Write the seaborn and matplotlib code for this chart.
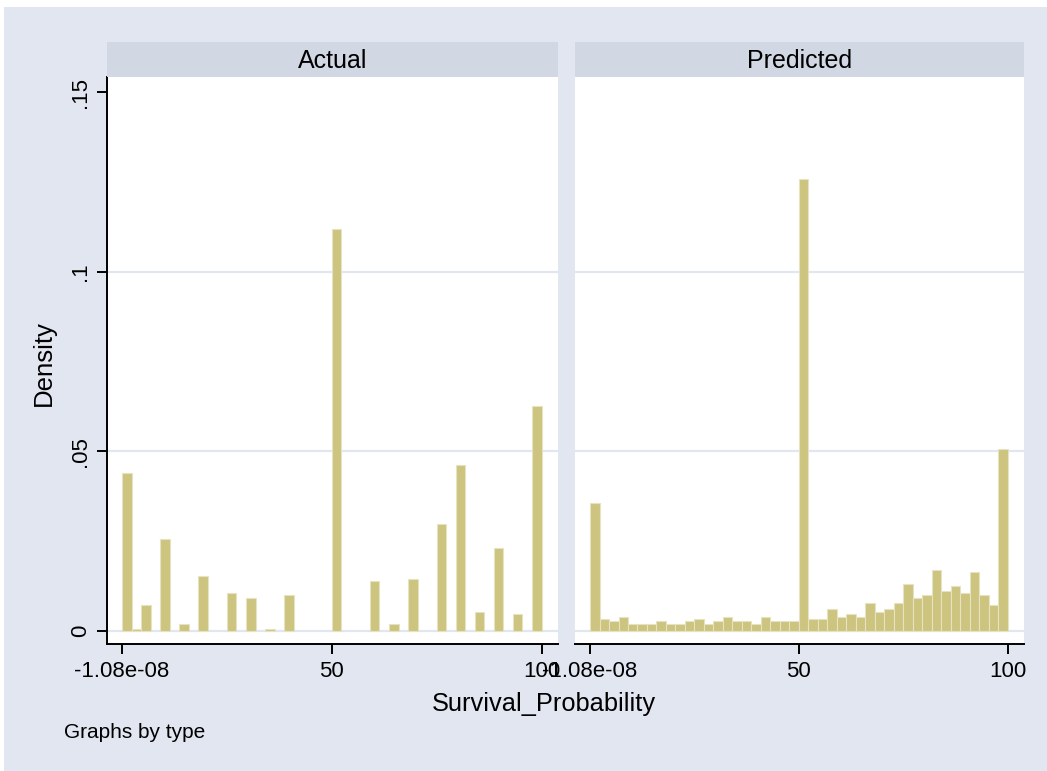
import numpy as np
import pandas as pd
import matplotlib
matplotlib.use("Agg")
import matplotlib.pyplot as plt
import seaborn as sns
from matplotlib.patches import Rectangle

# density of each of the 44 equal-width bins of Survival_Probability
actual_density = [0.0441, 0.00065, 0.00725, 0, 0.0257, 0, 0.0020, 0, 0.0152, 0,
                  0, 0.0106, 0, 0.0092, 0, 0.00065, 0, 0.0099, 0, 0,
                  0, 0, 0.1120, 0, 0, 0, 0.0139, 0, 0.0020, 0,
                  0.0145, 0, 0, 0.0297, 0, 0.0461, 0, 0.0053, 0, 0.0231,
                  0, 0.0047, 0, 0.0627]
predicted_density = [0.0357, 0.0034, 0.0027, 0.0039, 0.0020, 0.0020, 0.0020, 0.0027, 0.0020, 0.0020,
                     0.0027, 0.0034, 0.0020, 0.0027, 0.0039, 0.0027, 0.0027, 0.0020, 0.0039, 0.0027,
                     0.0027, 0.0027, 0.1259, 0.0034, 0.0034, 0.0060, 0.0039, 0.0047, 0.0039, 0.0079,
                     0.0053, 0.0060, 0.0079, 0.0132, 0.0092, 0.0099, 0.0171, 0.0112, 0.0126, 0.0106,
                     0.0165, 0.0099, 0.0073, 0.0507]
panel_titles = ["Actual", "Predicted"]
x_min, x_max = -1.08e-08, 100
x_ticks = [-1.08e-08, 50, 100]
x_ticklabels = ["-1.08e-08", "50", "100"]
y_ticks = [0, 0.05, 0.1, 0.15]
y_ticklabels = ["0", ".05", ".1", ".15"]

BG = "#E1E6F0"
STRIP = "#D1D7E3"
BAR = "#CCC47F"
BAR_EDGE = "#E6E2C2"
GRID = "#E1E6F0"

plt.rcParams["font.family"] = ["Liberation Sans", "DejaVu Sans"]

n_bins = len(actual_density)
edges = np.linspace(x_min, x_max, n_bins + 1)
centers = (edges[:-1] + edges[1:]) / 2
df = pd.DataFrame({
    "type": np.repeat(panel_titles, n_bins),
    "center": np.tile(centers, 2),
    "density": actual_density + predicted_density,
})

W, H = 1047, 771
fig = plt.figure(figsize=(W / 100, H / 100), dpi=100)
fig.patch.set_facecolor("white")
fig.add_artist(Rectangle((3.5 / W, 0), 1, (H - 7) / H, transform=fig.transFigure,
                         facecolor=BG, edgecolor="none", zorder=-10))

# panel boxes in pixels: (left, width)
panels = [(107, 450.5), (575, 448.5)]
top_px, bottom_px = 77, 644
strip_h = 35

for (x0, w), title in zip(panels, panel_titles):
    ax = fig.add_axes([x0 / W, (H - bottom_px) / H, w / W, (bottom_px - top_px) / H])
    ax.set_facecolor("white")
    for v in y_ticks[:-1]:
        ax.axhline(v, color=GRID, lw=1.6, zorder=0)
    sub = df[df["type"] == title]
    sns.histplot(data=sub, x="center", weights="density", bins=n_bins, binrange=(x_min, x_max),
                 stat="count", color=BAR, alpha=1, edgecolor=BAR_EDGE, linewidth=0.8,
                 ax=ax, zorder=2)
    for p in ax.patches:
        if p.get_height() == 0:
            p.set_visible(False)
    ax.set_xlim(-3.6, 103.8)
    ax.set_ylim(-0.00363, 0.15418)
    ax.set_xlabel("")
    ax.set_ylabel("")
    ax.set_xticks(x_ticks, x_ticklabels)
    ax.tick_params(axis="x", direction="out", length=7.2, width=1.4, labelsize=16, pad=5)
    for s in ["top", "right"]:
        ax.spines[s].set_visible(False)
    ax.spines["bottom"].set_linewidth(1.4)
    if title == panel_titles[0]:
        ax.set_yticks(y_ticks, y_ticklabels, rotation=90, va="center")
        ax.tick_params(axis="y", direction="out", length=7.2, width=1.4, labelsize=16, pad=4)
        ax.spines["left"].set_linewidth(1.4)
    else:
        ax.set_yticks([])
        ax.spines["left"].set_visible(False)

    sax = fig.add_axes([x0 / W, (H - top_px) / H, w / W, strip_h / H])
    sax.set_facecolor(STRIP)
    sax.set_xticks([])
    sax.set_yticks([])
    for s in sax.spines.values():
        s.set_visible(False)
    sax.text(0.5, 0.45, title, ha="center", va="center", fontsize=18, transform=sax.transAxes)

fig.text(44 / W, 1 - 363 / H, "Density", rotation=90, ha="center", va="center", fontsize=18.5)
fig.text(544 / W, 1 - 704 / H, "Survival_Probability", ha="center", va="center", fontsize=18.3)
fig.text(64 / W, 1 - 733 / H, "Graphs by type", ha="left", va="center", fontsize=15)

fig.savefig("out.png", dpi=100, facecolor=fig.get_facecolor())
